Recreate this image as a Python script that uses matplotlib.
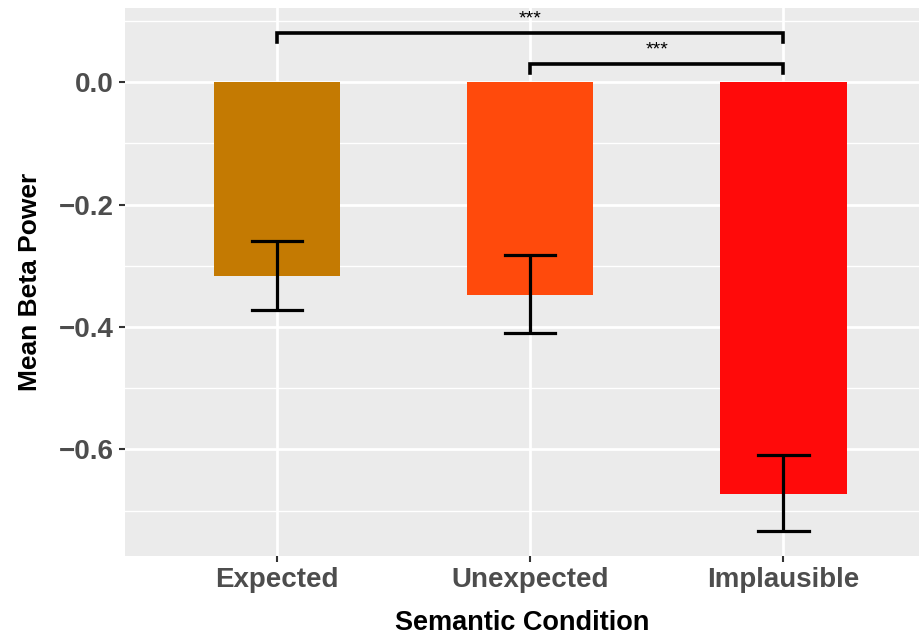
import matplotlib
matplotlib.use("Agg")
import matplotlib.pyplot as plt
from matplotlib.ticker import MultipleLocator

# Mean beta power per semantic condition, with error bar limits
conditions = ["Expected", "Unexpected", "Implausible"]
mean_power = [-0.317, -0.347, -0.672]
err_low = [-0.373, -0.410, -0.733]
err_high = [-0.260, -0.283, -0.609]
bar_colors = ["#C47A02", "#FF4A0C", "#FF0A0A"]

# significance brackets: (from, to, height, label)
brackets = [(0, 2, 0.080, "***"), (1, 2, 0.030, "***")]

plt.rcParams["font.family"] = ["Liberation Sans", "DejaVu Sans"]

fig = plt.figure(figsize=(9.2, 6.36), dpi=100)
ax = fig.add_axes([125 / 920, 1 - 556 / 636, 795 / 920, 548 / 636])
ax.set_facecolor("#EBEBEB")

x = list(range(1, len(conditions) + 1))
ax.bar(x, mean_power, width=0.5, color=bar_colors, zorder=3)

for xi, lo, hi in zip(x, err_low, err_high):
    ax.plot([xi, xi], [lo, hi], color="black", lw=2.3, zorder=4, solid_capstyle="butt")
    ax.plot([xi - 0.1, xi + 0.1], [lo, lo], color="black", lw=2.3, zorder=4)
    ax.plot([xi - 0.1, xi + 0.1], [hi, hi], color="black", lw=2.3, zorder=4)

for a, b, h, lab in brackets:
    xa, xb = x[a], x[b]
    ax.plot([xa, xa, xb, xb], [h - 0.015, h, h, h - 0.015], color="black",
            lw=2.6, zorder=4, solid_joinstyle="miter")
    ax.text((xa + xb) / 2, h + 0.009, lab, ha="center", va="bottom",
            fontsize=14, color="black", zorder=5)

ax.set_xlim(0.4, 3.54)
ax.set_ylim(-0.774, 0.121)
ax.set_xticks(x)
ax.set_xticklabels(conditions)
ax.yaxis.set_minor_locator(MultipleLocator(0.1))
ax.set_yticks([0.0, -0.2, -0.4, -0.6])
ax.set_yticklabels(["0.0", "\u22120.2", "\u22120.4", "\u22120.6"])

ax.grid(which="major", color="white", lw=2, zorder=0)
ax.grid(which="minor", axis="y", color="white", lw=1, zorder=0)
ax.set_axisbelow(True)
for s in ax.spines.values():
    s.set_visible(False)

ax.tick_params(axis="both", which="major", length=4, width=1.5, color="#333333",
               labelsize=20, labelcolor="#4D4D4D", pad=4)
ax.tick_params(axis="both", which="minor", length=0)
for lbl in ax.get_xticklabels() + ax.get_yticklabels():
    lbl.set_fontweight("bold")

ax.set_xlabel("Semantic Condition", fontsize=19.5, fontweight="bold", labelpad=12)
ax.set_ylabel("Mean Beta Power", fontsize=19, fontweight="bold", labelpad=12)

fig.savefig("out.png", dpi=100, facecolor="white")
